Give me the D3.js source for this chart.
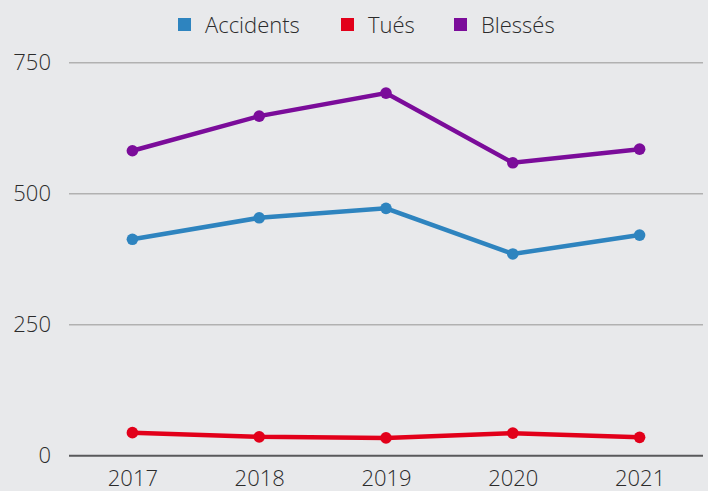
<!DOCTYPE html>
<html>
<head>
<meta charset="utf-8">
<script src="https://cdn.jsdelivr.net/npm/d3@7"></script>
<style>
  body { margin: 0; background: #e8e9eb; }
  svg { display: block; }
  svg text { font-family: "Open Sans", sans-serif; font-size: 22px; font-weight: 300; fill: #2b2b2b; }
</style>
</head>
<body>
<div id="chart"></div>
<script>
// data
var years = ["2017", "2018", "2019", "2020", "2021"];
var accidents = [413, 454, 472, 385, 421];
var tues = [44, 36, 34, 43, 35];
var blesses = [582, 648, 692, 559, 585];
var yTicks = [0, 250, 500, 750];

var seriesNames = ["Accidents", "Tués", "Blessés"];
var seriesColors = ["#2e84bf", "#e2001a", "#7b0c9a"];

var w = 708, h = 491;
var margin = {top: 0, left: 69, right: 5};
var y0 = 455.7, y750 = 62.7;

var series = [accidents, tues, blesses].map(function(vals, i) {
  return {
    name: seriesNames[i],
    color: seriesColors[i],
    values: vals.map(function(v, j) { return {year: years[j], value: v}; })
  };
});

var svg = d3.select("#chart")
  .append("svg")
  .attr("width", w)
  .attr("height", h);

svg.append("rect")
  .attr("width", w)
  .attr("height", h)
  .attr("fill", "#e8e9eb");

var xScale = d3.scalePoint()
  .domain(years)
  .range([margin.left, 703])
  .padding(0.5);

var yScale = d3.scaleLinear()
  .domain([0, 750])
  .range([y0, y750]);

// gridlines
svg.append("g")
  .selectAll("line")
  .data(yTicks)
  .enter()
  .append("line")
  .attr("x1", margin.left)
  .attr("x2", 703)
  .attr("y1", function(d) { return yScale(d); })
  .attr("y2", function(d) { return yScale(d); })
  .attr("stroke", function(d) { return d === 0 ? "#58595b" : "#b1b1b1"; })
  .attr("stroke-width", function(d) { return d === 0 ? 2 : 1.5; });

//y-axis labels
var yAxis = d3.axisLeft(yScale)
  .tickValues(yTicks)
  .tickSize(0)
  .tickPadding(0);

svg.append("g")
  .attr("transform", "translate(51,0)")
  .call(yAxis)
  .call(function(g) { g.select(".domain").remove(); });

//x-axis labels
var xAxis = d3.axisBottom(xScale).tickSize(0).tickPadding(0);

svg.append("g")
  .attr("transform", "translate(0,470)")
  .call(xAxis)
  .call(function(g) { g.select(".domain").remove(); });

var line = d3.line()
  .x(function(d) { return xScale(d.year); })
  .y(function(d) { return yScale(d.value); });

var sg = svg.append("g")
  .selectAll("g")
  .data(series)
  .enter()
  .append("g");

sg.append("path")
  .attr("d", function(d) { return line(d.values); })
  .attr("fill", "none")
  .attr("stroke", function(d) { return d.color; })
  .attr("stroke-width", 4.5);

sg.selectAll("circle")
  .data(function(d) { return d.values.map(function(v) { return {v: v, color: d.color}; }); })
  .enter()
  .append("circle")
  .attr("cx", function(d) { return xScale(d.v.year); })
  .attr("cy", function(d) { return yScale(d.v.value); })
  .attr("r", 5.8)
  .attr("fill", function(d) { return d.color; });

// legend
var legendX = [178, 341, 454];
var lg = svg.append("g")
  .selectAll("g")
  .data(series)
  .enter()
  .append("g")
  .attr("transform", function(d, i) { return "translate(" + legendX[i] + ",0)"; });

lg.append("rect")
  .attr("y", 18)
  .attr("width", 13)
  .attr("height", 13)
  .attr("fill", function(d) { return d.color; });

lg.append("text")
  .attr("x", 27)
  .attr("y", 33)
  .text(function(d) { return d.name; });
</script>
</body>
</html>
